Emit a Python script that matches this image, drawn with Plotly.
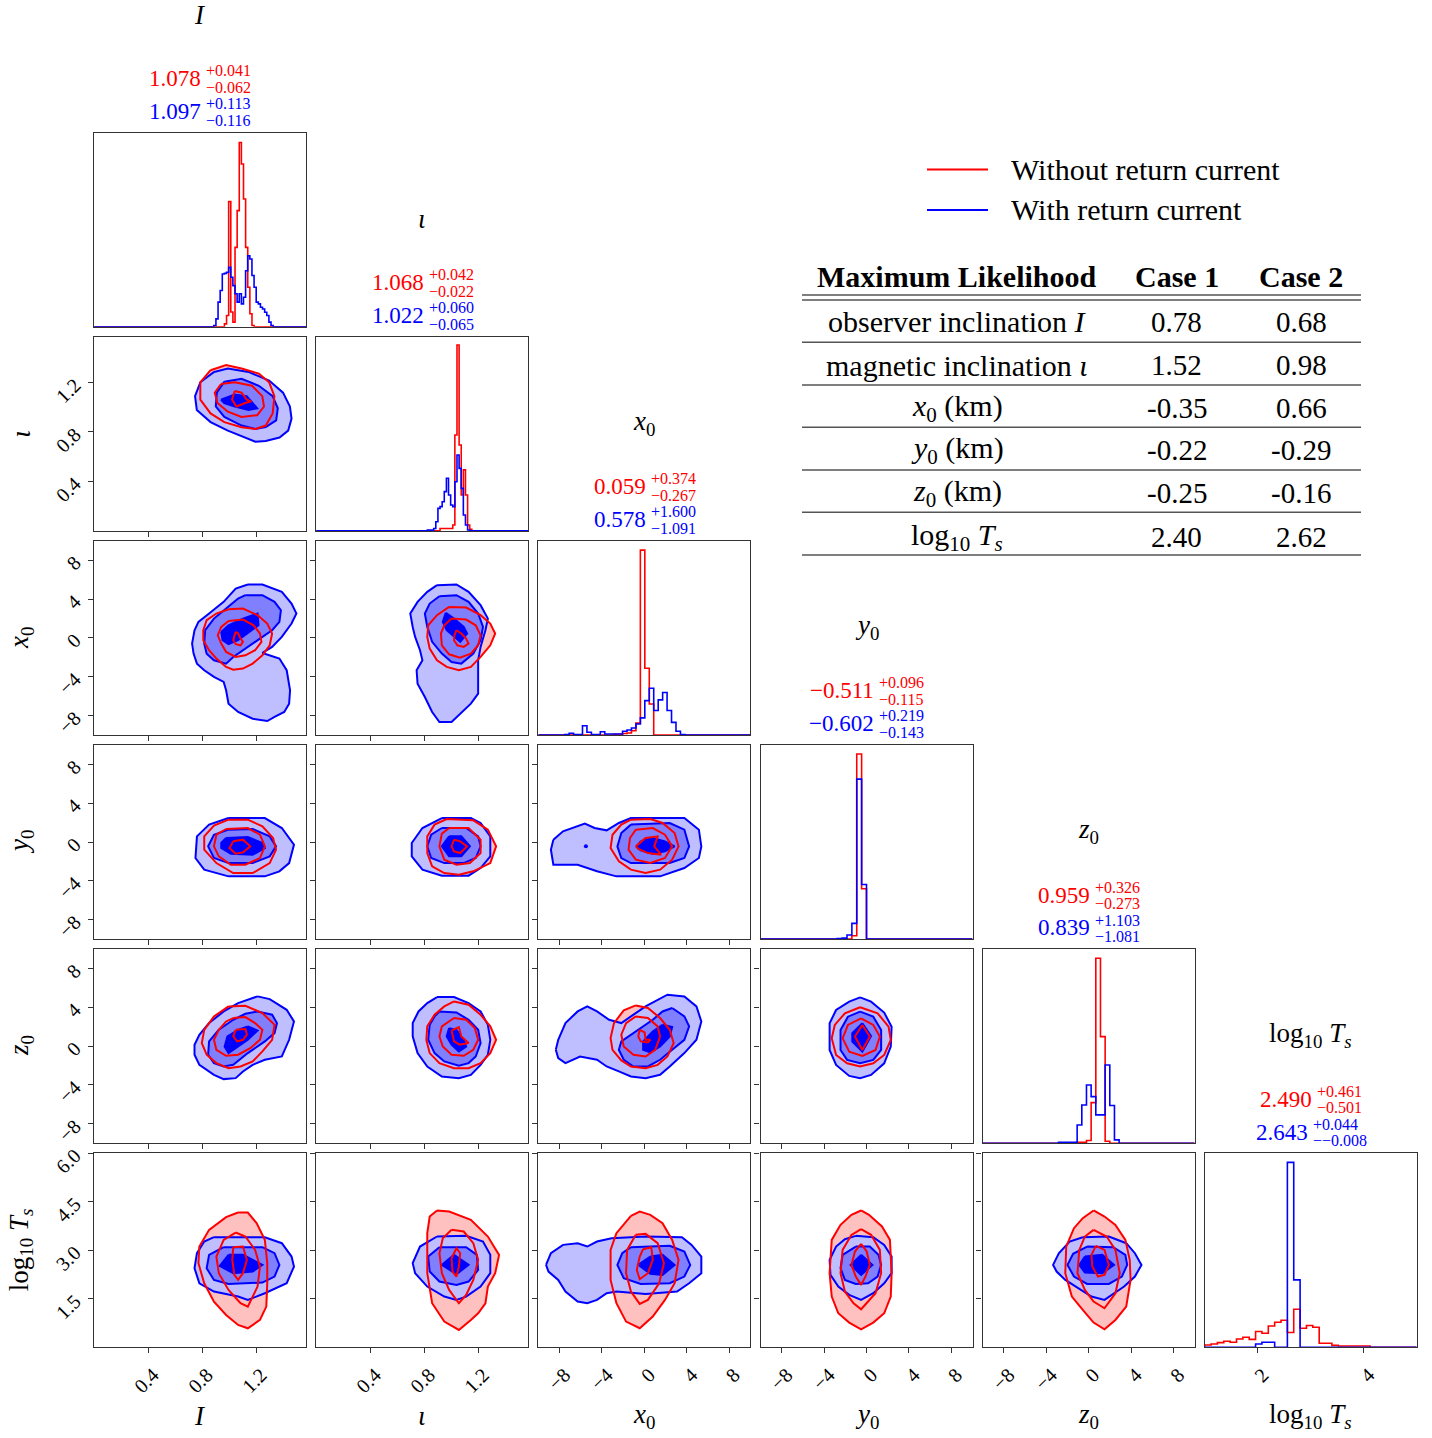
import math
import plotly.graph_objects as go

# ======================= DATA =======================
# axis ranges
RANGE_ANGLE = [0.0, math.pi / 2]
RANGE_POS = [-10.0, 10.0]
RANGE_LOGT_X = [1.0, 5.0]
RANGE_LOGT_Y = [0.0, 6.0]

# tick labels
TICKS_ANGLE = [0.4, 0.8, 1.2]
TICKTEXT_ANGLE = ["0.4", "0.8", "1.2"]
TICKS_POS = [-8, -4, 0, 4, 8]
TICKTEXT_POS = ["\u22128", "\u22124", "0", "4", "8"]
TICKS_LOGT_X = [2, 4]
TICKTEXT_LOGT_X = ["2", "4"]
TICKS_LOGT_Y = [1.5, 3.0, 4.5, 6.0]
TICKTEXT_LOGT_Y = ["1.5", "3.0", "4.5", "6.0"]

# labels
LABELS = ["<i>I</i>", "<i>\u03b9</i>", "<i>x</i><sub>0</sub>", "<i>y</i><sub>0</sub>",
          "<i>z</i><sub>0</sub>", "log<sub>10</sub> <i>T<sub>s</sub></i>"]

# summary statistics (median, +err, -err)
STATS_RED = [("1.078", "+0.041", "\u22120.062"), ("1.068", "+0.042", "\u22120.022"),
             ("0.059", "+0.374", "\u22120.267"), ("\u22120.511", "+0.096", "\u22120.115"),
             ("0.959", "+0.326", "\u22120.273"), ("2.490", "+0.461", "\u22120.501")]
STATS_BLUE = [("1.097", "+0.113", "\u22120.116"), ("1.022", "+0.060", "\u22120.065"),
              ("0.578", "+1.600", "\u22121.091"), ("\u22120.602", "+0.219", "\u22120.143"),
              ("0.839", "+1.103", "\u22121.081"), ("2.643", "+0.044", "\u2212\u22120.008")]

# 1D histograms: bin start, bin width, heights (fraction of panel height)
HIST_I_BIN = 0.0157
HIST_I_RED_START = 0.9657
HIST_I_RED = [0.015, 0.058, 0.645, 0.076, 0.024, 0.409, 0.598, 0.949, 0.838, 0.658,
              0.409, 0.204, 0.067, 0.007]
HIST_I_BLUE_START = 0.8870
HIST_I_BLUE = [0.007, 0.041, 0.127, 0.187, 0.272, 0.275, 0.281, 0.306, 0.255, 0.212,
               0.170, 0.127, 0.170, 0.118, 0.152, 0.289, 0.366, 0.349, 0.264, 0.204,
               0.127, 0.118, 0.101, 0.092, 0.075, 0.058, 0.024, 0.007]

HIST_IOTA_BIN = 0.0157
HIST_IOTA_RED_START = 0.9176
HIST_IOTA_RED = [0.012, 0.012, 0.012, 0.012, 0.012, 0.012, 0.030, 0.494, 0.957, 0.442,
                 0.185, 0.314, 0.185, 0.030, 0.008]
HIST_IOTA_BLUE_START = 0.8234
HIST_IOTA_BLUE = [0.004, 0.004, 0.004, 0.012, 0.047, 0.116, 0.125, 0.150, 0.202, 0.271,
                  0.185, 0.133, 0.125, 0.253, 0.391, 0.322, 0.219, 0.082, 0.030, 0.005]

HIST_X0_BIN = 0.42
HIST_X0_RED_START = -2.891
HIST_X0_RED = [0.004, 0.004, 0.008, 0.010, 0.022, 0.061, 0.952, 0.344, 0.160]
HIST_X0_BLUE_START = -7.511
HIST_X0_BLUE = [0.002, 0.009, 0.002, 0.002, 0.048, 0.014, 0.002, 0.002, 0.017, 0.005,
                0.005, 0.005, 0.005, 0.019, 0.026, 0.036, 0.057, 0.088, 0.177, 0.241,
                0.126, 0.181, 0.219, 0.126, 0.065, 0.019, 0.002]

HIST_Y0_BIN = 0.46
HIST_Y0_RED_START = -1.38
HIST_Y0_RED = [0.017, 0.953, 0.259]
HIST_Y0_BLUE_START = -2.76
HIST_Y0_BLUE = [0.003, 0.005, 0.021, 0.081, 0.824, 0.281]

HIST_Z0_BIN = 0.44
HIST_Z0_RED_START = -1.08
HIST_Z0_RED = [0.005, 0.005, 0.014, 0.209, 0.952, 0.549, 0.010]
HIST_Z0_BLUE_START = -2.84
HIST_Z0_BLUE = [0.005, 0.005, 0.005, 0.005, 0.094, 0.197, 0.300, 0.240, 0.146, 0.146,
                0.403, 0.194, 0.017]

HIST_LOGT_BIN = 0.12
HIST_LOGT_RED_START = 1.0
HIST_LOGT_RED = [0.012, 0.017, 0.024, 0.031, 0.026, 0.043, 0.052, 0.041, 0.081, 0.072,
                 0.110, 0.129, 0.139, 0.076, 0.196, 0.098, 0.112, 0.103, 0.021, 0.021,
                 0.010, 0.007, 0.007, 0.007, 0.007, 0.007]
HIST_LOGT_BLUE_START = 1.96
HIST_LOGT_BLUE = [0.017, 0.026, 0.026, 0.0, 0.0, 0.952, 0.347]

# 2D credible contours, (x, y) vertices in data units
# B = with return current (blue), R = without (red); 1 outer, 2 middle, 3 inner
I_IOTA_B1 = [(0.889, 1.286), (0.991, 1.314), (1.144, 1.286), (1.297, 1.216), (1.400, 1.118), (1.451, 1.006), (1.463, 0.908), (1.438, 0.811), (1.374, 0.755), (1.272, 0.727), (1.195, 0.721), (1.093, 0.769), (0.991, 0.811), (0.863, 0.880), (0.761, 0.978), (0.748, 1.090), (0.787, 1.202)]
I_IOTA_B2 = [(0.965, 1.207), (1.093, 1.230), (1.221, 1.174), (1.323, 1.090), (1.361, 0.992), (1.349, 0.894), (1.272, 0.839), (1.195, 0.825), (1.093, 0.852), (0.965, 0.922), (0.902, 1.006), (0.909, 1.118)]
I_IOTA_B3 = [(0.940, 1.062), (1.042, 1.104), (1.131, 1.090), (1.208, 0.992), (1.144, 0.978), (1.042, 1.006), (0.965, 1.034)]
I_IOTA_R1 = [(0.863, 1.300), (0.978, 1.342), (1.093, 1.314), (1.221, 1.272), (1.297, 1.202), (1.336, 1.090), (1.323, 0.950), (1.272, 0.852), (1.195, 0.825), (1.093, 0.839), (0.965, 0.880), (0.863, 0.950), (0.787, 1.062), (0.787, 1.202)]
I_IOTA_R2 = [(0.940, 1.188), (1.042, 1.202), (1.170, 1.174), (1.246, 1.090), (1.259, 1.006), (1.208, 0.936), (1.093, 0.922), (0.991, 0.964), (0.914, 1.034), (0.894, 1.118)]
I_IOTA_R3 = [(1.042, 1.132), (1.093, 1.118), (1.131, 1.062), (1.165, 1.048), (1.119, 1.034), (1.055, 1.006), (1.022, 1.062)]

I_X0_B1 = [(1.139, 5.50), (1.247, 5.50), (1.391, 4.74), (1.463, 3.54), (1.499, 2.51), (1.463, 1.48), (1.391, 0.10), (1.319, -0.93), (1.247, -1.55), (1.373, -2.13), (1.427, -3.33), (1.452, -5.40), (1.445, -6.77), (1.409, -7.63), (1.337, -8.14), (1.283, -8.56), (1.175, -8.32), (1.067, -7.63), (0.996, -6.77), (0.978, -5.40), (0.960, -4.54), (0.888, -4.02), (0.816, -3.33), (0.762, -2.65), (0.737, -1.62), (0.726, -0.59), (0.744, 0.79), (0.773, 1.65), (0.852, 2.51), (0.960, 3.71), (1.049, 5.08)]
I_X0_B2 = [(1.121, 4.40), (1.247, 4.40), (1.337, 3.71), (1.384, 2.85), (1.373, 1.65), (1.319, 0.79), (1.247, 0.10), (1.139, -0.93), (1.031, -1.96), (0.978, -2.65), (0.888, -2.30), (0.834, -1.62), (0.816, -0.59), (0.823, 0.79), (0.888, 1.99), (0.978, 3.02), (1.067, 4.05)]
I_X0_B3 = [(0.942, 0.62), (0.996, 1.30), (1.103, 1.99), (1.211, 2.51), (1.218, 1.30), (1.139, 0.45), (1.067, -0.24), (0.996, -0.65), (0.952, -0.24)]
I_X0_R1 = [(0.996, 2.95), (1.103, 3.02), (1.211, 2.34), (1.283, 1.48), (1.319, 0.45), (1.301, -0.76), (1.247, -1.79), (1.175, -2.65), (1.103, -3.16), (1.031, -3.27), (0.978, -2.99), (0.906, -2.13), (0.852, -1.27), (0.809, -0.24), (0.809, 0.79), (0.834, 1.82), (0.906, 2.51)]
I_X0_R2 = [(0.996, 1.75), (1.103, 1.89), (1.182, 1.30), (1.229, 0.45), (1.240, -0.41), (1.193, -1.27), (1.121, -1.79), (1.049, -1.96), (0.978, -1.44), (0.942, -0.59), (0.916, 0.27), (0.942, 1.13)]
I_X0_R3 = [(1.049, 0.62), (1.067, 0.45), (1.085, -0.07), (1.103, -0.41), (1.085, -0.76), (1.049, -0.65), (1.031, -0.24), (1.042, 0.27)]

IOTA_X0_B1 = [(0.895, 5.43), (1.039, 5.50), (1.129, 4.74), (1.218, 3.37), (1.272, 1.99), (1.254, 0.79), (1.218, -0.93), (1.200, -2.30), (1.200, -4.02), (1.200, -5.74), (1.146, -6.77), (1.093, -7.46), (1.003, -8.66), (0.913, -8.66), (0.859, -7.63), (0.805, -6.08), (0.751, -4.71), (0.744, -3.33), (0.787, -2.30), (0.769, -1.27), (0.733, 0.10), (0.715, 1.13), (0.697, 2.51), (0.751, 3.71), (0.823, 4.74)]
IOTA_X0_B2 = [(0.913, 4.29), (1.039, 4.40), (1.129, 3.71), (1.200, 2.51), (1.236, 1.13), (1.218, -0.24), (1.164, -1.62), (1.075, -2.65), (1.003, -2.48), (0.931, -1.62), (0.859, -0.41), (0.823, 1.13), (0.805, 2.51), (0.841, 3.54)]
IOTA_X0_B3 = [(0.960, 2.58), (1.021, 1.99), (1.093, 1.13), (1.118, 0.45), (1.067, -0.41), (1.021, 0.10), (0.967, 0.79), (0.938, 1.65)]
IOTA_X0_R1 = [(0.985, 3.19), (1.111, 3.13), (1.218, 2.34), (1.290, 1.48), (1.326, 0.45), (1.290, -0.76), (1.218, -1.96), (1.146, -2.99), (1.057, -3.33), (0.967, -2.99), (0.895, -2.30), (0.841, -1.10), (0.823, 0.10), (0.830, 1.30), (0.895, 2.34)]
IOTA_X0_R2 = [(1.003, 1.99), (1.111, 1.89), (1.182, 1.30), (1.218, 0.27), (1.200, -0.76), (1.146, -1.62), (1.064, -2.03), (0.985, -1.69), (0.931, -0.76), (0.924, 0.45), (0.949, 1.30)]
IOTA_X0_R3 = [(1.039, 0.79), (1.075, 0.45), (1.111, -0.07), (1.129, -0.59), (1.093, -0.93), (1.046, -0.76), (1.021, -0.24), (1.024, 0.27)]

I_Y0_B1 = [(0.996, 2.47), (1.265, 2.47), (1.391, 1.44), (1.481, -0.28), (1.445, -2.17), (1.373, -3.02), (1.265, -3.54), (0.996, -3.54), (0.816, -2.85), (0.751, -1.65), (0.762, 0.58), (0.852, 1.79)]
I_Y0_B2 = [(0.996, 1.27), (1.175, 1.34), (1.301, 0.58), (1.348, -0.45), (1.301, -1.48), (1.175, -2.17), (0.996, -2.17), (0.888, -1.65), (0.845, -0.45), (0.888, 0.75)]
I_Y0_B3 = [(0.978, 0.41), (1.139, 0.51), (1.247, -0.10), (1.265, -0.62), (1.175, -1.31), (1.013, -1.20), (0.942, -0.62), (0.942, -0.10)]
I_Y0_R1 = [(0.996, 2.30), (1.139, 2.30), (1.247, 1.61), (1.326, 0.41), (1.348, -0.79), (1.301, -2.17), (1.175, -3.20), (1.031, -3.20), (0.906, -2.17), (0.816, -0.79), (0.816, 0.58), (0.888, 1.68)]
I_Y0_R2 = [(0.978, 1.34), (1.139, 1.44), (1.229, 0.75), (1.265, -0.45), (1.229, -1.65), (1.121, -2.34), (1.013, -2.34), (0.924, -1.48), (0.888, -0.45), (0.906, 0.75)]
I_Y0_R3 = [(1.031, 0.07), (1.103, 0.24), (1.157, -0.45), (1.103, -1.07), (1.049, -1.20), (1.003, -0.62)]

IOTA_Y0_B1 = [(0.931, 2.47), (1.146, 2.47), (1.218, 1.96), (1.290, 0.58), (1.290, -1.48), (1.218, -2.68), (1.129, -3.47), (0.931, -3.47), (0.787, -2.85), (0.708, -1.48), (0.708, -0.10), (0.787, 1.44)]
IOTA_Y0_B2 = [(0.931, 1.44), (1.111, 1.44), (1.200, 0.58), (1.218, -0.45), (1.182, -1.65), (1.093, -2.17), (0.949, -2.17), (0.852, -1.65), (0.823, -0.45), (0.852, 0.75)]
IOTA_Y0_B3 = [(0.985, 0.58), (1.075, 0.58), (1.139, -0.45), (1.075, -1.48), (0.985, -1.48), (0.931, -0.45)]
IOTA_Y0_R1 = [(0.967, 2.37), (1.164, 2.23), (1.272, 1.27), (1.333, -0.45), (1.290, -2.17), (1.164, -3.02), (1.057, -3.37), (0.949, -3.20), (0.859, -2.51), (0.823, -1.14), (0.823, 0.58), (0.877, 1.79)]
IOTA_Y0_R2 = [(0.985, 1.44), (1.129, 1.44), (1.218, 0.24), (1.218, -1.14), (1.139, -2.17), (1.039, -2.34), (0.949, -1.82), (0.913, -0.45), (0.931, 0.86)]
IOTA_Y0_R3 = [(1.021, 0.24), (1.067, 0.07), (1.118, -0.45), (1.067, -1.14), (1.021, -0.96), (1.003, -0.45)]

X0_Y0_B1 = [(-8.58, 0.24), (-7.67, 1.10), (-5.61, 1.89), (-4.69, 1.44), (-3.55, 1.20), (-2.40, 1.96), (-1.26, 2.47), (3.78, 2.47), (5.15, 1.27), (5.38, -0.45), (5.15, -1.65), (3.78, -2.68), (1.49, -3.54), (-2.63, -3.54), (-4.46, -3.02), (-6.29, -2.34), (-8.58, -2.34), (-8.81, -0.79)]
X0_Y0_B2 = [(-1.26, 1.79), (2.40, 1.96), (3.78, 1.27), (4.23, -0.45), (3.78, -1.65), (2.40, -2.17), (-1.26, -2.17), (-2.17, -1.65), (-2.54, -0.45), (-2.17, 0.93)]
X0_Y0_B3 = [(-0.34, 0.07), (0.80, 0.41), (1.95, 0.07), (2.86, -0.45), (1.95, -0.96), (0.80, -1.20), (-0.34, -0.86), (-0.71, -0.45)]
X0_Y0_R1 = [(-1.26, 2.30), (0.57, 2.37), (1.72, 1.96), (2.86, 0.93), (3.23, -0.45), (2.63, -1.82), (1.49, -2.85), (0.12, -3.20), (-1.26, -2.85), (-2.40, -1.99), (-3.18, -0.62), (-3.00, 0.75), (-2.17, 1.79)]
X0_Y0_R2 = [(-0.80, 1.27), (0.80, 1.44), (1.95, 0.75), (2.63, -0.45), (1.95, -1.65), (0.57, -2.17), (-0.80, -1.82), (-1.49, -0.79), (-1.35, 0.41)]
X0_Y0_R3 = [(-0.80, -0.45), (0.12, 0.41), (1.26, 0.58), (0.94, -0.45), (1.58, -1.31), (0.34, -1.14), (-0.57, -0.72)]
X0_Y0_DOT = [(-5.51, -0.45)]

I_Z0_B1 = [(1.211, 5.12), (1.301, 4.84), (1.427, 3.74), (1.481, 2.54), (1.445, 0.65), (1.391, -1.07), (1.265, -1.41), (1.175, -1.93), (1.103, -2.61), (1.049, -3.30), (0.960, -3.40), (0.888, -2.96), (0.780, -1.93), (0.744, -0.89), (0.744, 0.14), (0.780, 1.17), (0.852, 2.37), (0.960, 3.57), (1.067, 4.43)]
I_Z0_B2 = [(1.211, 3.57), (1.319, 3.23), (1.355, 2.37), (1.337, 1.34), (1.265, 0.48), (1.139, -0.72), (1.031, -1.93), (0.960, -2.10), (0.888, -1.75), (0.845, -0.89), (0.852, 0.48), (0.924, 1.68), (1.031, 2.71), (1.121, 3.33)]
I_Z0_B3 = [(1.139, 2.03), (1.211, 1.61), (1.139, 0.65), (1.067, -0.04), (0.996, -0.72), (0.967, -0.04), (0.988, 1.00), (1.067, 1.68)]
I_Z0_R1 = [(0.996, 4.09), (1.121, 4.16), (1.247, 3.40), (1.337, 2.20), (1.319, 0.65), (1.247, -0.55), (1.175, -1.58), (1.085, -2.10), (0.996, -2.27), (0.906, -1.75), (0.834, -0.89), (0.798, 0.31), (0.816, 1.68), (0.888, 3.06)]
I_Z0_R2 = [(1.031, 2.89), (1.121, 2.99), (1.193, 2.37), (1.247, 1.68), (1.229, 0.65), (1.157, -0.21), (1.067, -0.89), (0.978, -1.00), (0.906, -0.38), (0.888, 0.65), (0.924, 1.68), (0.978, 2.54)]
I_Z0_R3 = [(1.049, 1.68), (1.121, 1.75), (1.132, 1.17), (1.103, 0.65), (1.060, 0.48), (1.031, 1.00)]

IOTA_Z0_B1 = [(0.895, 5.05), (1.021, 5.05), (1.129, 4.43), (1.218, 3.57), (1.272, 2.20), (1.290, 0.65), (1.272, -0.89), (1.218, -1.93), (1.146, -2.96), (1.057, -3.30), (0.931, -3.13), (0.823, -2.10), (0.751, -0.72), (0.715, 1.00), (0.715, 2.37), (0.758, 3.57), (0.823, 4.43)]
IOTA_Z0_B2 = [(0.913, 3.57), (1.039, 3.47), (1.129, 2.71), (1.200, 1.68), (1.218, 0.31), (1.182, -1.07), (1.129, -1.75), (1.057, -2.03), (0.949, -1.58), (0.877, -0.72), (0.830, 0.65), (0.841, 2.20), (0.877, 3.06)]
IOTA_Z0_B3 = [(0.985, 1.85), (1.039, 1.68), (1.093, 0.65), (1.111, -0.04), (1.057, -0.55), (1.003, 0.14), (0.967, 1.00)]
IOTA_Z0_R1 = [(1.021, 4.60), (1.129, 4.26), (1.218, 3.23), (1.290, 2.03), (1.333, 0.65), (1.290, -0.72), (1.218, -1.75), (1.129, -2.27), (1.021, -2.27), (0.913, -1.75), (0.841, -0.72), (0.816, 0.65), (0.823, 2.03), (0.877, 3.23), (0.949, 4.09)]
IOTA_Z0_R2 = [(1.021, 2.89), (1.111, 2.71), (1.175, 1.85), (1.200, 0.65), (1.164, -0.38), (1.093, -1.00), (1.003, -0.89), (0.938, -0.04), (0.913, 1.00), (0.931, 2.03)]
IOTA_Z0_R3 = [(1.003, 1.61), (1.057, 1.96), (1.075, 1.00), (1.129, 0.31), (1.064, 0.14), (1.021, 0.48)]

X0_Z0_B1 = [(-8.35, -0.38), (-8.12, 0.65), (-7.44, 2.37), (-6.29, 3.57), (-5.38, 4.09), (-4.46, 3.57), (-3.32, 2.71), (-2.17, 2.37), (-1.26, 3.06), (0.12, 4.09), (2.18, 5.29), (3.78, 5.12), (4.92, 4.09), (5.38, 2.54), (4.92, 0.65), (3.78, -0.72), (2.40, -2.10), (1.49, -2.96), (0.12, -3.30), (-1.26, -3.13), (-2.40, -2.61), (-3.55, -2.10), (-4.46, -1.41), (-6.06, -1.07), (-7.44, -1.75), (-8.12, -1.24)]
X0_Z0_B2 = [(2.63, 3.92), (3.78, 3.06), (4.23, 2.03), (3.78, 0.65), (2.63, -0.38), (1.49, -1.41), (0.34, -2.10), (-1.03, -2.10), (-1.94, -1.41), (-2.40, -0.38), (-2.17, 0.48), (-0.80, 1.51), (0.80, 2.71), (1.72, 3.57)]
X0_Z0_B3 = [(1.72, 2.20), (2.63, 1.96), (2.40, 1.00), (1.49, -0.04), (0.57, -0.65), (-0.11, -0.38), (-0.11, 0.48), (0.80, 1.51)]
X0_Z0_R1 = [(-0.80, 4.19), (0.34, 3.92), (1.49, 2.89), (2.40, 1.68), (2.77, 0.31), (2.18, -1.07), (1.26, -1.93), (0.12, -2.27), (-1.26, -2.10), (-2.17, -1.48), (-3.00, -0.38), (-3.18, 0.82), (-2.86, 2.37), (-1.94, 3.68)]
X0_Z0_R2 = [(-0.80, 3.06), (0.34, 2.89), (1.26, 2.03), (1.49, 1.00), (1.03, -0.38), (0.12, -1.07), (-1.03, -0.89), (-1.94, -0.04), (-2.17, 1.17), (-1.72, 2.37)]
X0_Z0_R3 = [(-0.43, 1.68), (0.03, 1.41), (0.12, 0.65), (0.57, 0.65), (0.34, 0.38), (-0.34, 0.48), (-0.57, 1.00)]

Y0_Z0_B1 = [(-0.60, 5.02), (0.43, 4.58), (1.67, 3.45), (2.37, 2.00), (2.29, -0.05), (1.67, -1.77), (0.43, -2.97), (-0.60, -3.31), (-1.63, -3.07), (-2.87, -1.94), (-3.48, -0.40), (-3.48, 2.35), (-2.87, 3.72), (-1.63, 4.58)]
Y0_Z0_B2 = [(-0.60, 3.55), (0.64, 3.03), (1.38, 1.66), (1.38, -0.40), (0.64, -1.42), (-0.60, -1.77), (-1.83, -1.42), (-2.45, -0.40), (-2.45, 1.66), (-1.75, 3.03)]
Y0_Z0_B3 = [(-0.39, 2.35), (0.43, 1.04), (-0.39, -0.57), (-1.34, 0.46), (-1.34, 1.32)]
Y0_Z0_R1 = [(-0.60, 4.00), (1.05, 3.38), (2.08, 2.00), (2.29, 0.63), (1.67, -0.91), (0.64, -1.77), (-0.60, -2.11), (-1.83, -1.77), (-2.87, -0.91), (-3.28, 0.80), (-2.99, 2.18), (-2.04, 3.38)]
Y0_Z0_R2 = [(-0.51, 2.86), (0.64, 2.18), (1.26, 0.98), (0.85, -0.40), (-0.39, -1.01), (-1.63, -0.57), (-2.25, 0.80), (-1.75, 2.18)]
Y0_Z0_R3 = [(-0.39, 2.18), (0.31, 0.98), (-0.39, -0.40), (-1.09, 0.98)]

I_LOGT_B1 = [(0.888, 3.402), (1.265, 3.402), (1.391, 3.216), (1.463, 2.804), (1.481, 2.495), (1.427, 1.979), (1.265, 1.670), (1.139, 1.464), (1.067, 1.567), (0.888, 1.722), (0.780, 1.979), (0.744, 2.443), (0.762, 2.907), (0.816, 3.268)]
I_LOGT_B2 = [(0.960, 3.093), (1.247, 3.093), (1.337, 2.907), (1.373, 2.546), (1.337, 2.186), (1.247, 1.999), (0.996, 1.959), (0.888, 2.082), (0.834, 2.443), (0.852, 2.856)]
I_LOGT_B3 = [(0.996, 2.856), (1.103, 2.856), (1.175, 2.701), (1.247, 2.546), (1.175, 2.340), (1.031, 2.289), (0.931, 2.515)]
I_LOGT_R1 = [(1.067, 4.165), (1.139, 4.165), (1.204, 3.835), (1.265, 3.319), (1.283, 2.598), (1.283, 1.979), (1.276, 1.258), (1.229, 0.845), (1.139, 0.588), (1.067, 0.691), (0.978, 1.000), (0.888, 1.412), (0.816, 1.979), (0.773, 2.598), (0.780, 3.113), (0.852, 3.629), (0.978, 4.021)]
I_LOGT_R2 = [(1.049, 3.546), (1.121, 3.423), (1.193, 3.010), (1.229, 2.495), (1.211, 1.876), (1.139, 1.258), (1.085, 1.361), (0.996, 1.773), (0.924, 2.289), (0.906, 2.804), (0.960, 3.319)]
I_LOGT_R3 = [(1.031, 3.093), (1.103, 3.113), (1.132, 2.701), (1.103, 2.289), (1.067, 2.082), (1.039, 2.237), (1.024, 2.701)]

IOTA_LOGT_B1 = [(0.895, 3.423), (1.111, 3.443), (1.236, 3.268), (1.290, 2.856), (1.290, 2.289), (1.218, 1.876), (1.111, 1.567), (1.039, 1.464), (0.949, 1.567), (0.823, 1.876), (0.733, 2.289), (0.715, 2.598), (0.769, 3.113)]
IOTA_LOGT_B2 = [(0.913, 3.093), (1.111, 3.093), (1.190, 2.856), (1.200, 2.392), (1.129, 2.031), (1.039, 1.928), (0.913, 2.031), (0.841, 2.340), (0.830, 2.804)]
IOTA_LOGT_B3 = [(1.021, 2.856), (1.129, 2.546), (1.039, 2.258), (0.931, 2.546)]
IOTA_LOGT_R1 = [(0.895, 4.227), (0.985, 4.196), (1.146, 3.938), (1.272, 3.423), (1.355, 2.856), (1.326, 2.289), (1.272, 1.876), (1.254, 1.361), (1.200, 1.052), (1.146, 0.845), (1.057, 0.536), (0.949, 0.794), (0.859, 1.361), (0.823, 2.289), (0.823, 3.526), (0.841, 4.041)]
IOTA_LOGT_R2 = [(1.003, 3.629), (1.093, 3.577), (1.164, 3.216), (1.200, 2.701), (1.164, 2.082), (1.111, 1.619), (1.057, 1.361), (0.985, 1.773), (0.931, 2.289), (0.913, 2.907), (0.938, 3.371)]
IOTA_LOGT_R3 = [(1.003, 2.752), (1.039, 3.062), (1.067, 2.907), (1.057, 2.495), (1.039, 2.186), (1.010, 2.340)]

X0_LOGT_B1 = [(-9.27, 2.546), (-8.81, 2.907), (-7.67, 3.165), (-6.29, 3.216), (-5.38, 3.113), (-4.46, 3.268), (-3.09, 3.371), (0.12, 3.423), (3.55, 3.402), (4.46, 3.165), (5.38, 2.804), (5.38, 2.289), (4.23, 1.979), (3.09, 1.722), (0.12, 1.649), (-2.63, 1.722), (-3.55, 1.670), (-4.46, 1.464), (-5.38, 1.361), (-6.29, 1.412), (-7.44, 1.722), (-8.12, 2.082), (-9.04, 2.340)]
X0_LOGT_B2 = [(-1.26, 3.093), (2.40, 3.134), (3.78, 2.959), (4.33, 2.546), (3.78, 2.186), (2.40, 1.979), (-0.34, 1.959), (-1.94, 2.134), (-2.54, 2.546), (-2.08, 2.907)]
X0_LOGT_B3 = [(0.57, 2.804), (1.72, 2.856), (2.86, 2.546), (1.72, 2.237), (0.57, 2.268), (-0.57, 2.546)]
X0_LOGT_R1 = [(-1.26, 4.062), (-0.43, 4.196), (0.57, 4.093), (1.72, 3.835), (2.63, 3.319), (3.23, 2.701), (2.86, 1.979), (1.95, 1.464), (0.80, 0.948), (-0.43, 0.588), (-1.72, 0.794), (-2.63, 1.361), (-3.18, 2.082), (-3.18, 3.010), (-2.63, 3.526)]
X0_LOGT_R2 = [(-0.80, 3.474), (0.12, 3.505), (1.26, 3.216), (1.85, 2.598), (1.40, 1.979), (0.34, 1.464), (-0.43, 1.340), (-1.26, 1.722), (-1.72, 2.289), (-1.62, 3.010)]
X0_LOGT_R3 = [(-0.11, 3.031), (0.66, 3.093), (0.80, 2.701), (0.34, 2.289), (-0.43, 2.103), (-0.71, 2.392), (-0.43, 2.804)]

Y0_LOGT_B1 = [(-1.01, 3.443), (0.64, 3.402), (1.67, 3.165), (2.37, 2.804), (2.37, 2.289), (1.67, 1.979), (0.64, 1.670), (-0.51, 1.464), (-1.63, 1.619), (-2.66, 1.876), (-3.40, 2.237), (-3.48, 2.701), (-2.87, 3.113), (-2.04, 3.340)]
Y0_LOGT_B2 = [(-1.01, 3.113), (0.31, 3.113), (1.13, 2.856), (1.38, 2.546), (1.05, 2.186), (0.15, 1.979), (-1.01, 1.959), (-2.04, 2.082), (-2.45, 2.443), (-2.25, 2.856)]
Y0_LOGT_B3 = [(-0.51, 2.856), (0.56, 2.546), (-0.51, 2.237), (-1.50, 2.546)]
Y0_LOGT_R1 = [(-0.51, 4.227), (0.23, 4.093), (1.46, 3.732), (2.21, 3.319), (2.37, 2.289), (2.29, 1.567), (1.67, 1.052), (0.64, 0.763), (-0.51, 0.557), (-1.63, 0.763), (-2.66, 1.052), (-3.28, 1.567), (-3.48, 2.289), (-3.28, 3.319), (-2.45, 3.783), (-1.42, 4.093)]
Y0_LOGT_R2 = [(-0.51, 3.649), (0.43, 3.474), (1.26, 3.010), (1.38, 2.289), (0.85, 1.670), (0.02, 1.361), (-0.51, 1.175), (-1.22, 1.361), (-2.04, 1.722), (-2.45, 2.289), (-2.25, 3.010), (-1.42, 3.474)]
Y0_LOGT_R3 = [(-0.51, 3.196), (0.02, 2.959), (0.31, 2.546), (-0.10, 2.186), (-0.51, 1.928), (-1.01, 2.186), (-1.42, 2.546), (-1.09, 2.959)]

Z0_LOGT_B1 = [(-0.55, 3.402), (1.91, 3.423), (3.55, 3.216), (4.37, 2.907), (4.99, 2.546), (4.37, 2.186), (3.35, 1.876), (1.50, 1.464), (0.27, 1.567), (-1.17, 1.876), (-2.20, 2.082), (-3.02, 2.340), (-3.35, 2.546), (-2.81, 2.907), (-1.79, 3.268)]
Z0_LOGT_B2 = [(-0.14, 3.113), (2.32, 3.093), (3.47, 2.856), (3.64, 2.546), (3.14, 2.186), (1.91, 1.959), (-0.14, 1.959), (-1.38, 2.186), (-1.99, 2.546), (-1.46, 2.887)]
Z0_LOGT_B3 = [(-0.35, 2.804), (1.29, 2.856), (2.40, 2.546), (1.29, 2.289), (-0.35, 2.309), (-0.88, 2.546)]
Z0_LOGT_R1 = [(0.47, 4.227), (1.50, 4.041), (2.53, 3.783), (3.47, 3.319), (3.88, 2.701), (3.96, 2.082), (3.55, 1.258), (2.53, 0.845), (1.50, 0.557), (0.47, 0.763), (-0.55, 1.155), (-1.58, 1.567), (-2.20, 2.289), (-2.11, 3.113), (-1.38, 3.680), (-0.55, 3.990)]
Z0_LOGT_R2 = [(0.47, 3.629), (1.70, 3.423), (2.53, 3.010), (2.94, 2.289), (2.53, 1.670), (1.50, 1.206), (0.47, 1.412), (-0.35, 1.773), (-1.05, 2.289), (-0.88, 3.010), (-0.35, 3.423)]
Z0_LOGT_R3 = [(0.68, 3.134), (1.50, 3.010), (1.91, 2.546), (1.50, 2.237), (0.88, 2.186), (0.35, 2.495), (0.27, 2.856)]

# legend & table content
LEGEND_LABELS = ["Without return current", "With return current"]
TABLE_HEADER = ["Maximum Likelihood", "Case 1", "Case 2"]
TABLE_ROWS = ["observer inclination <i>I</i>", "magnetic inclination <i>\u03b9</i>",
              "<i>x</i><sub>0</sub> (km)", "<i>y</i><sub>0</sub> (km)",
              "<i>z</i><sub>0</sub> (km)", "log<sub>10</sub> <i>T<sub>s</sub></i>"]
TABLE_CASE1 = ["0.78", "1.52", "-0.35", "-0.22", "-0.25", "2.40"]
TABLE_CASE2 = ["0.68", "0.98", "0.66", "-0.29", "-0.16", "2.62"]

# ======================= LAYOUT / STYLE =======================
W, H = 1432, 1438
FONT = "Liberation Serif, DejaVu Serif, serif"
RED = "rgb(255,0,0)"
BLUE = "rgb(0,0,255)"
FILL_B1 = "rgb(191,191,255)"
FILL_B2 = "rgb(128,128,255)"
FILL_B3 = "rgb(0,0,255)"
FILL_R = "rgb(255,192,192)"
SPINE = "#333333"

COL_LEFT = [94.1, 316.2, 538.3, 760.5, 982.6, 1204.7]
PANEL_W = 212.0
ROW_TOP = [132.6, 336.7, 540.8, 744.9, 949.0, 1153.1]
PANEL_H = 194.2

X_RANGES = [RANGE_ANGLE, RANGE_ANGLE, RANGE_POS, RANGE_POS, RANGE_POS, RANGE_LOGT_X]
Y_RANGES = [RANGE_ANGLE, RANGE_ANGLE, RANGE_POS, RANGE_POS, RANGE_POS, RANGE_LOGT_Y]
X_TICKS = [(TICKS_ANGLE, TICKTEXT_ANGLE)] * 2 + [(TICKS_POS, TICKTEXT_POS)] * 3 + [(TICKS_LOGT_X, TICKTEXT_LOGT_X)]
Y_TICKS = [(TICKS_ANGLE, TICKTEXT_ANGLE)] * 2 + [(TICKS_POS, TICKTEXT_POS)] * 3 + [(TICKS_LOGT_Y, TICKTEXT_LOGT_Y)]

HISTS = [
    (HIST_I_RED_START, HIST_I_BIN, HIST_I_RED, HIST_I_BLUE_START, HIST_I_BLUE),
    (HIST_IOTA_RED_START, HIST_IOTA_BIN, HIST_IOTA_RED, HIST_IOTA_BLUE_START, HIST_IOTA_BLUE),
    (HIST_X0_RED_START, HIST_X0_BIN, HIST_X0_RED, HIST_X0_BLUE_START, HIST_X0_BLUE),
    (HIST_Y0_RED_START, HIST_Y0_BIN, HIST_Y0_RED, HIST_Y0_BLUE_START, HIST_Y0_BLUE),
    (HIST_Z0_RED_START, HIST_Z0_BIN, HIST_Z0_RED, HIST_Z0_BLUE_START, HIST_Z0_BLUE),
    (HIST_LOGT_RED_START, HIST_LOGT_BIN, HIST_LOGT_RED, HIST_LOGT_BLUE_START, HIST_LOGT_BLUE),
]

CONTOURS = {
    (1, 0): (I_IOTA_B1, I_IOTA_B2, I_IOTA_B3, I_IOTA_R1, I_IOTA_R2, I_IOTA_R3),
    (2, 0): (I_X0_B1, I_X0_B2, I_X0_B3, I_X0_R1, I_X0_R2, I_X0_R3),
    (2, 1): (IOTA_X0_B1, IOTA_X0_B2, IOTA_X0_B3, IOTA_X0_R1, IOTA_X0_R2, IOTA_X0_R3),
    (3, 0): (I_Y0_B1, I_Y0_B2, I_Y0_B3, I_Y0_R1, I_Y0_R2, I_Y0_R3),
    (3, 1): (IOTA_Y0_B1, IOTA_Y0_B2, IOTA_Y0_B3, IOTA_Y0_R1, IOTA_Y0_R2, IOTA_Y0_R3),
    (3, 2): (X0_Y0_B1, X0_Y0_B2, X0_Y0_B3, X0_Y0_R1, X0_Y0_R2, X0_Y0_R3),
    (4, 0): (I_Z0_B1, I_Z0_B2, I_Z0_B3, I_Z0_R1, I_Z0_R2, I_Z0_R3),
    (4, 1): (IOTA_Z0_B1, IOTA_Z0_B2, IOTA_Z0_B3, IOTA_Z0_R1, IOTA_Z0_R2, IOTA_Z0_R3),
    (4, 2): (X0_Z0_B1, X0_Z0_B2, X0_Z0_B3, X0_Z0_R1, X0_Z0_R2, X0_Z0_R3),
    (4, 3): (Y0_Z0_B1, Y0_Z0_B2, Y0_Z0_B3, Y0_Z0_R1, Y0_Z0_R2, Y0_Z0_R3),
    (5, 0): (I_LOGT_B1, I_LOGT_B2, I_LOGT_B3, I_LOGT_R1, I_LOGT_R2, I_LOGT_R3),
    (5, 1): (IOTA_LOGT_B1, IOTA_LOGT_B2, IOTA_LOGT_B3, IOTA_LOGT_R1, IOTA_LOGT_R2, IOTA_LOGT_R3),
    (5, 2): (X0_LOGT_B1, X0_LOGT_B2, X0_LOGT_B3, X0_LOGT_R1, X0_LOGT_R2, X0_LOGT_R3),
    (5, 3): (Y0_LOGT_B1, Y0_LOGT_B2, Y0_LOGT_B3, Y0_LOGT_R1, Y0_LOGT_R2, Y0_LOGT_R3),
    (5, 4): (Z0_LOGT_B1, Z0_LOGT_B2, Z0_LOGT_B3, Z0_LOGT_R1, Z0_LOGT_R2, Z0_LOGT_R3),
}


def px(x):
    return x / W


def py(y):
    return 1 - y / H


fig = go.Figure()
layout = {}

axis_id = {}
k = 0
for r in range(6):
    for c in range(r + 1):
        k += 1
        axis_id[(r, c)] = k


def aname(k, p):
    return p + ("" if k == 1 else str(k))


tickfont = dict(family=FONT, size=20, color="black")

for (r, c), k in axis_id.items():
    diag = (r == c)
    xdom = [px(COL_LEFT[c]), px(COL_LEFT[c] + PANEL_W)]
    ydom = [py(ROW_TOP[r] + PANEL_H), py(ROW_TOP[r])]
    show_x = (r == 5)
    xt = X_TICKS[c]
    xa = dict(domain=xdom, anchor=aname(k, "y"), range=X_RANGES[c], showgrid=False,
              zeroline=False, showline=True, mirror=True, linecolor=SPINE, linewidth=1.3,
              ticks="outside" if (not diag or r == 5) else "", ticklen=5, tickwidth=1.2,
              tickcolor=SPINE, tickvals=xt[0], ticktext=xt[1], showticklabels=show_x,
              tickangle=-45, tickfont=tickfont, ticklabelshift=5, ticklabelstandoff=2,
              automargin=False, fixedrange=True)
    if diag:
        ya = dict(domain=ydom, anchor=aname(k, "x"), range=[0, 1.0], showgrid=False,
                  zeroline=False, showline=True, mirror=True, linecolor=SPINE, linewidth=1.3,
                  ticks="", showticklabels=False, automargin=False, fixedrange=True)
    else:
        yt = Y_TICKS[r]
        ya = dict(domain=ydom, anchor=aname(k, "x"), range=Y_RANGES[r], showgrid=False,
                  zeroline=False, showline=True, mirror=True, linecolor=SPINE, linewidth=1.3,
                  ticks="outside", ticklen=5, tickwidth=1.2, tickcolor=SPINE,
                  tickvals=yt[0], ticktext=yt[1], showticklabels=(c == 0),
                  tickangle=-45, tickfont=tickfont, ticklabelstandoff=9,
                  automargin=False, fixedrange=True)
    layout["xaxis" + ("" if k == 1 else str(k))] = xa
    layout["yaxis" + ("" if k == 1 else str(k))] = ya


def step_xy(start, width, counts, lo, hi):
    xs = [lo] + [start + width * i for i in range(len(counts) + 1)] + [hi]
    ys = [0.0] + list(counts) + [0.0, 0.0]
    return xs, ys


# histograms
for c in range(6):
    k = axis_id[(c, c)]
    rs, bw, rc, bs, bc = HISTS[c]
    lo, hi = X_RANGES[c]
    for start, counts, col in ((rs, rc, RED), (bs, bc, BLUE)):
        xs, ys = step_xy(start, bw, counts, lo, hi)
        fig.add_trace(go.Scatter(x=xs, y=ys, mode="lines", line=dict(color=col, width=1.6, shape="hv"),
                                 xaxis=aname(k, "x"), yaxis=aname(k, "y"), hoverinfo="skip",
                                 showlegend=False))


def poly(pts, k, fill=None, line=None, width=0.0):
    xs = [p[0] for p in pts] + [pts[0][0]]
    ys = [p[1] for p in pts] + [pts[0][1]]
    return go.Scatter(x=xs, y=ys, mode="lines", fill="toself" if fill else "none",
                      fillcolor=fill if fill else None,
                      line=dict(color=line if line else "rgba(0,0,0,0)", width=width),
                      xaxis=aname(k, "x"), yaxis=aname(k, "y"), hoverinfo="skip",
                      showlegend=False)


for (r, c), polys in CONTOURS.items():
    k = axis_id[(r, c)]
    b1, b2, b3, r1, r2, r3 = polys
    fig.add_trace(poly(r1, k, fill=FILL_R, line=None, width=0))
    fig.add_trace(poly(b1, k, fill=FILL_B1, line=BLUE, width=2.0))
    fig.add_trace(poly(b2, k, fill=FILL_B2, line=BLUE, width=2.0))
    fig.add_trace(poly(b3, k, fill=FILL_B3, line=BLUE, width=2.0))
    for rp in (r1, r2, r3):
        fig.add_trace(poly(rp, k, fill=None, line=RED, width=2.0))

kd = axis_id[(3, 2)]
fig.add_trace(go.Scatter(x=[p[0] for p in X0_Y0_DOT], y=[p[1] for p in X0_Y0_DOT], mode="markers",
                         marker=dict(color=BLUE, size=4), xaxis=aname(kd, "x"), yaxis=aname(kd, "y"),
                         hoverinfo="skip", showlegend=False))

# ---------------- annotations ----------------
ann = []


def add_text(x, y, text, size, color="black", xanchor="center", yanchor="middle", angle=0):
    ann.append(dict(x=px(x), y=py(y), xref="paper", yref="paper", text=text, showarrow=False,
                    font=dict(family=FONT, size=size, color=color), xanchor=xanchor,
                    yanchor=yanchor, textangle=angle, borderpad=0))


CW = {".": 0.25, "+": 0.564, "\u2212": 0.564}


def twidth(s, size):
    return sum(CW.get(ch, 0.5) for ch in s) * size


MAIN_SIZE, SCRIPT_SIZE = 23, 16
for c in range(6):
    cx = COL_LEFT[c] + PANEL_W / 2
    top = ROW_TOP[c]
    add_text(cx, top - 118, LABELS[c], 27)
    for stats, col, dy in ((STATS_RED, RED, -54), (STATS_BLUE, BLUE, -21)):
        m, sp, sb = stats[c]
        wm = twidth(m, MAIN_SIZE)
        ws = max(twidth(sp, SCRIPT_SIZE), twidth(sb, SCRIPT_SIZE))
        split = cx + (wm - ws) / 2
        add_text(split - 1, top + dy, m, MAIN_SIZE, col, xanchor="right")
        add_text(split + 2, top + dy - 8, sp, SCRIPT_SIZE, col, xanchor="left", yanchor="middle")
        add_text(split + 2, top + dy + 8.5, sb, SCRIPT_SIZE, col, xanchor="left", yanchor="middle")
    # bottom axis labels
    add_text(cx, 1416, LABELS[c], 27)

# left axis labels
for r in range(1, 6):
    add_text(21, ROW_TOP[r] + PANEL_H / 2, LABELS[r], 27, angle=-90)

# legend
shapes = []
LEG_Y = [169.5, 210.0]
for lab, col, ly in zip(LEGEND_LABELS, (RED, BLUE), LEG_Y):
    shapes.append(dict(type="line", xref="paper", yref="paper", x0=px(927), x1=px(988),
                       y0=py(ly), y1=py(ly), line=dict(color=col, width=2)))
    add_text(1010, ly, lab, 30, xanchor="left")

# table
TAB_X = [957, 1176.5, 1301]
for hx, htxt in zip(TAB_X, TABLE_HEADER):
    add_text(hx, 276, "<b>" + htxt + "</b>", 30)
ROW_Y = [321.7, 365.0, 408.3, 450.0, 493.3, 536.7]
for lab, v1, v2, ry in zip(TABLE_ROWS, TABLE_CASE1, TABLE_CASE2, ROW_Y):
    add_text(TAB_X[0], ry, lab, 30)
    add_text(TAB_X[1], ry, v1, 29)
    add_text(TAB_X[2], ry, v2, 29)
for ly in (295.0, 300.0, 342.3, 385.0, 427.3, 470.0, 512.3, 555.0):
    shapes.append(dict(type="line", xref="paper", yref="paper", x0=px(802), x1=px(1361),
                       y0=py(ly), y1=py(ly), line=dict(color="#555555", width=1.5)))

layout.update(dict(width=W, height=H, margin=dict(l=0, r=0, t=0, b=0, autoexpand=False),
                   paper_bgcolor="white", plot_bgcolor="white", showlegend=False,
                   annotations=ann, shapes=shapes, font=dict(family=FONT)))
fig.update_layout(**layout)
fig.write_html("out.html")
